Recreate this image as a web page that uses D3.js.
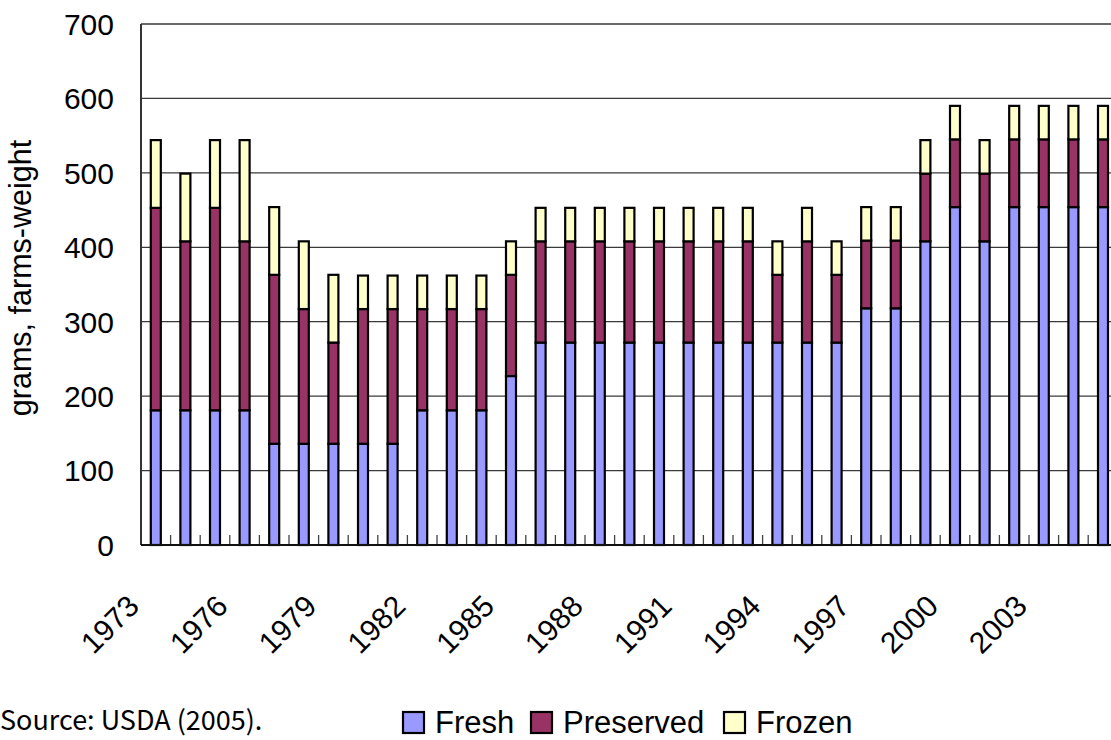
<!DOCTYPE html>
<html>
<head>
<meta charset="utf-8">
<script src="https://cdn.jsdelivr.net/npm/d3@7"></script>
<style>
  html, body { margin: 0; padding: 0; background: #fff; }
  svg { display: block; }
  text { font-family: "Liberation Sans", Arial, sans-serif; fill: #000; }
</style>
</head>
<body>
<svg id="chart" width="1111" height="740"></svg>
<script>
// ---- data (grams, farms-weight) ----
const years = d3.range(1973, 2006).map(String);
const fresh = [181,181,181,181,136,136,136,136,136,181,181,181,227,272,272,272,272,272,272,272,272,272,272,272,318,318,408,454,408,454,454,454,454];
const preserved = [272,227,272,227,227,181,136,181,181,136,136,136,136,136,136,136,136,136,136,136,136,91,136,91,91,91,91,91,91,91,91,91,91];
const frozen = [91,91,91,136,91,91,91,45,45,45,45,45,45,45,45,45,45,45,45,45,45,45,45,45,45,45,45,45,45,45,45,45,45];
const seriesNames = ["Fresh", "Preserved", "Frozen"];
const seriesColors = ["#9999FF", "#993366", "#FFFFCC"];
const yTicks = [0,100,200,300,400,500,600,700];
const xLabelYears = ["1973","1976","1979","1982","1985","1988","1991","1994","1997","2000","2003"];

(function () {
const svg = d3.select("#chart");
const mLeft = 141, mRight = 141 + 33 * 29.6, mTop = 24, mBottom = 545;

const x = d3.scaleBand().domain(years).range([mLeft, mRight]).padding(0);
const y = d3.scaleLinear().domain([0, 700]).range([mBottom, mTop]);

const rows = years.map((yr, i) => ({year: yr, Fresh: fresh[i], Preserved: preserved[i], Frozen: frozen[i]}));
const stacked = d3.stack().keys(seriesNames)(rows);

// gridlines
svg.append("g").selectAll("line").data(yTicks.filter(d => d > 0)).join("line")
  .attr("x1", mLeft).attr("x2", 1111)
  .attr("y1", d => y(d)).attr("y2", d => y(d))
  .attr("stroke", "#3a3a3a").attr("stroke-width", 1.3);

// category tick marks (upward, at band boundaries)
svg.append("g").selectAll("line").data(years.slice(1)).join("line")
  .attr("x1", d => x(d)).attr("x2", d => x(d))
  .attr("y1", mBottom).attr("y2", mBottom - 10)
  .attr("stroke", "#444").attr("stroke-width", 1.3);

// bars
const barW = 10;
svg.append("g").selectAll("g").data(stacked).join("g")
  .attr("fill", (d, i) => seriesColors[i])
  .selectAll("rect").data(d => d).join("rect")
  .attr("x", d => x(d.data.year) + x.bandwidth() / 2 - barW / 2)
  .attr("width", barW)
  .attr("y", d => y(d[1]))
  .attr("height", d => y(d[0]) - y(d[1]))
  .attr("stroke", "#000").attr("stroke-width", 2.2);

// axes lines
svg.append("line").attr("x1", mLeft).attr("x2", mLeft).attr("y1", mTop).attr("y2", mBottom)
  .attr("stroke", "#333").attr("stroke-width", 2);
svg.append("line").attr("x1", mLeft).attr("x2", 1111).attr("y1", mBottom).attr("y2", mBottom)
  .attr("stroke", "#111").attr("stroke-width", 2);

// y tick labels
svg.append("g").selectAll("text").data(yTicks).join("text")
  .attr("x", 114).attr("y", d => y(d))
  .attr("dy", "0.36em")
  .attr("text-anchor", "end")
  .style("font-size", "30px")
  .text(d => d);

// x labels rotated
svg.append("g").selectAll("text").data(xLabelYears).join("text")
  .attr("transform", d => `translate(${x(d) + x.bandwidth() / 2 - 15},${608}) rotate(-45)`)
  .attr("text-anchor", "end")
  .style("font-size", "30px")
  .text(d => d);

// y title
svg.append("text")
  .attr("transform", "translate(31,278) rotate(-90)")
  .attr("text-anchor", "middle")
  .style("font-size", "30.5px")
  .text("grams, farms-weight");

// source
svg.append("text")
  .attr("x", 0).attr("y", 730)
  .style("font-size", "27px")
  .style("font-family", "'Noto Sans CJK JP', 'Liberation Sans', sans-serif")
  .text("Source: USDA (2005).");

// legend
const legendX = [403, 531, 724];
const lg = svg.append("g").selectAll("g").data(seriesNames).join("g")
  .attr("transform", (d, i) => `translate(${legendX[i]},712)`);
lg.append("rect").attr("width", 21).attr("height", 21)
  .attr("fill", (d, i) => seriesColors[i])
  .attr("stroke", "#000").attr("stroke-width", 2.2);
lg.append("text").attr("x", 32).attr("y", 21)
  .style("font-size", "31px")
  .text(d => d);
})();
</script>
</body>
</html>
